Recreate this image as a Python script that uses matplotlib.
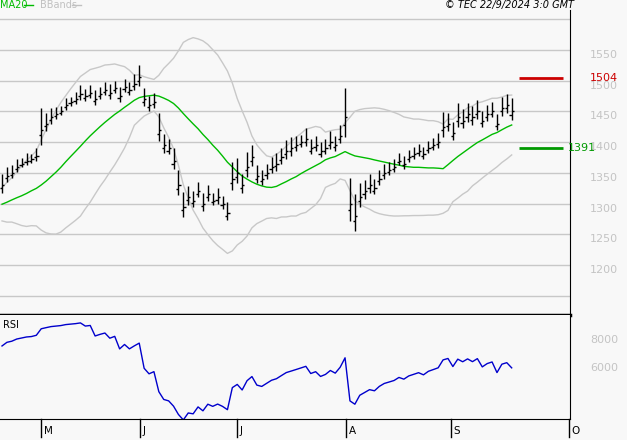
import numpy as np
import pandas as pd
import matplotlib
matplotlib.use("Agg")
import matplotlib.pyplot as plt

pre_close = [1270,1280,1275,1290,1300,1295,1285,1300,1310,1305,1295,1300,1290,1280,1295,1305,1310,1300,1315,1320]
close = [1330,1345,1350,1360,1365,1370,1372,1378,
         1420,1430,1440,1445,1450,
         1460,1465,1470,1478,1475,1480,1470,1478,
         1485,1480,1488,1475,1490,1485,1495,1505,
         1470,1460,1465,1420,1395,
         1390,1370,1330,1295,
         1310,1305,1320,1300,1315,1305,1310,1300,1285,
         1340,1350,1330,1360,1375,1345,
         1340,1350,1360,1365,1375,1385,1390,1395,1400,
         1405,1390,1395,1385,1390,1400,1395,1410,1440,
         1300,1280,1310,1320,1330,1325,1340,1350,
         1355,1360,1370,1365,1375,1380,1385,1380,1390,1395,1400,
         1425,1430,1415,1440,1435,1445,1440,1450,1435,1445,1450,1430,1455,1460,1450]
bar_range = [30,25,20,20,15,20,15,20,
             60,30,25,20,15,
             20,15,20,25,20,20,25,20,
             20,25,20,25,20,20,25,35,
             30,25,25,45,30,
             25,35,40,40,
             30,25,25,30,25,20,25,20,30,
             45,40,30,40,35,30,
             25,25,25,30,25,30,30,25,20,
             30,25,25,25,25,30,25,30,80,
             70,60,40,30,30,25,25,25,
             20,20,20,20,20,20,20,20,20,20,25,
             40,30,30,40,30,30,30,30,25,25,25,25,30,30,35]
month_labels = ["M", "J", "J", "A", "S", "O"]
month_pos = [8.0, 28.2, 48.0, 70.2, 91.6, 115.7]
price_ticks = [1550, 1500, 1450, 1400, 1350, 1300, 1250, 1200]
rsi_ticks = [80, 60]
last_high = 1504
last_low = 1391

allc = pd.Series(pre_close + close, dtype=float)
ma = allc.rolling(20).mean().values[20:]
sd = allc.rolling(20).std(ddof=0).values[20:]
up = ma + 2 * sd
dn = ma - 2 * sd
d = allc.diff()
g = d.clip(lower=0).ewm(alpha=1/14, adjust=False).mean()
l = (-d.clip(upper=0)).ewm(alpha=1/14, adjust=False).mean()
rsi = (100 - 100 / (1 + g / l)).values[20:]

c = np.array(close, float)
r = np.array(bar_range, float)
hi = c + 0.6 * r
lo = c - 0.4 * r
x = np.arange(len(c))

W, H = 627, 440
fig = plt.figure(figsize=(6.27, 4.40), dpi=100)
fig.patch.set_facecolor("#f8f8f8")
axR = 570 / W
ax = fig.add_axes([0, 1 - 315 / H, axR, (315 - 10) / H])
ax2 = fig.add_axes([0, 1 - 419 / H, axR, (419 - 315) / H])
for a in (ax, ax2):
    a.set_facecolor("#f8f8f8")
    a.set_xlim(-0.41, 115.9)
    a.set_xticks([]); a.set_yticks([])
    for s in ["top", "left"]:
        a.spines[s].set_visible(False)
    a.spines["right"].set_color("black")
    a.spines["bottom"].set_color("black")
ax.spines["bottom"].set_linewidth(2.5)

ax.set_ylim(1119, 1614.6)
for t in [1600] + price_ticks + [1150]:
    ax.axhline(t, color="#c8c8c8", lw=1, zorder=0)
ax.plot(x, up, color="#c8c8c8", lw=1)
ax.plot(x, dn, color="#c8c8c8", lw=1)
ax.plot(x, ma, color="#00bb00", lw=1)
ax.vlines(x, lo, hi, color="black", lw=1)
ax.hlines(c, x, x + 0.45, color="black", lw=1)
ax.hlines(c - 0.15 * r, x - 0.45, x, color="black", lw=1)
ax.hlines(last_high, 105.5, 114.5, color="#cc0000", lw=2)
ax.hlines(last_low, 105.5, 114.5, color="#009900", lw=2)
for t in price_ticks:
    ax.text(604 / W / axR, t, str(t), transform=ax.get_yaxis_transform(), color="#c4c4c4",
            fontsize=8, ha="center", va="top")
ax.text(604 / W / axR, last_high, str(last_high), transform=ax.get_yaxis_transform(),
        color="#cc0000", fontsize=8, ha="center", va="center")
ax.text(582 / W / axR, last_low, str(last_low), transform=ax.get_yaxis_transform(),
        color="#009900", fontsize=8, ha="center", va="center")

ax2.set_ylim(23, 97.8)
ax2.plot(x, rsi, color="#0000cc", lw=1)
for t in rsi_ticks:
    ax2.text(604 / W / axR, t, f"{t}00", transform=ax2.get_yaxis_transform(),
             color="#c4c4c4", fontsize=8, ha="center", va="center")
ax2.text(0.005, 0.9, "RSI", transform=ax2.transAxes, fontsize=7, va="center")

for lab, p in zip(month_labels, month_pos):
    ax2.plot([p, p], [0, -0.17], transform=ax2.get_xaxis_transform(), color="black",
             lw=1, clip_on=False)
    ax2.text(p + 0.5, -0.115, lab, transform=ax2.get_xaxis_transform(), fontsize=7.5,
             va="center", ha="left")

fig.text(0.0, 1 - 5 / H, "MA20", color="#00bb00", fontsize=7, va="center")
fig.add_artist(matplotlib.lines.Line2D([24 / W, 33 / W], [1 - 5 / H] * 2, color="#00bb00", lw=1))
fig.text(40 / W, 1 - 5 / H, "BBands", color="#c0c0c0", fontsize=7, va="center")
fig.add_artist(matplotlib.lines.Line2D([72 / W, 81 / W], [1 - 5 / H] * 2, color="#c0c0c0", lw=1))
fig.text(574 / W, 1 - 5 / H, "© TEC 22/9/2024 3:0 GMT", fontsize=7, style="italic",
         ha="right", va="center")
fig.savefig("out.png", dpi=100, facecolor=fig.get_facecolor())
